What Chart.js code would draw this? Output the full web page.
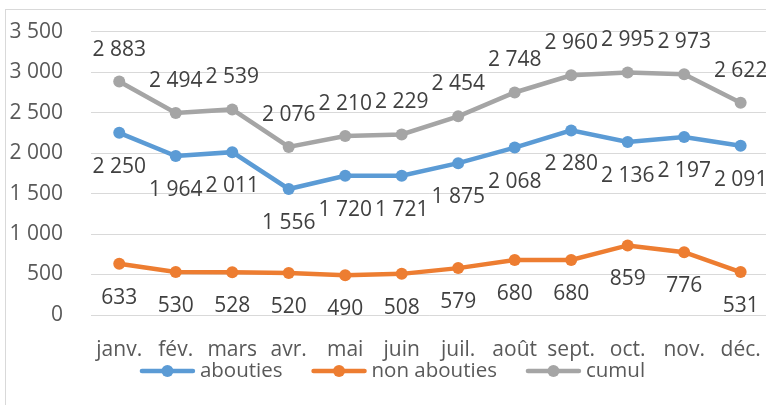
<!DOCTYPE html>
<html lang="fr">
<head>
<meta charset="UTF-8">
<title>Appels</title>
<script src="https://cdn.jsdelivr.net/npm/chart.js"></script>
<style>
  body { margin: 0; padding: 0; background: #fff; overflow: hidden; width: 766px; height: 405px; position: relative; }
  .frame { position: absolute; left: 5px; top: 9px; width: 1000px; height: 1000px; border: 1px solid #d9d9d9; }
  .wrap { position: absolute; left: 0; top: -9px; width: 775px; height: 414px; }
</style>
</head>
<body>
<div class="frame"></div>
<div class="wrap"><canvas id="chart"></canvas></div>
<script>
// data
const months = ['janv.', 'fév.', 'mars', 'avr.', 'mai', 'juin', 'juil.', 'août', 'sept.', 'oct.', 'nov.', 'déc.'];
const abouties = [2250, 1964, 2011, 1556, 1720, 1721, 1875, 2068, 2280, 2136, 2197, 2091];
const nonAbouties = [633, 530, 528, 520, 490, 508, 579, 680, 680, 859, 776, 531];
const cumul = [2883, 2494, 2539, 2076, 2210, 2229, 2454, 2748, 2960, 2995, 2973, 2622];

const FONT = "'Open Sans', sans-serif";
const FSIZE = 21;

function fmt(n) {
  return String(n).replace(/\B(?=(\d{3})+(?!\d))/g, ' ');
}

// value labels + legend (line with marker, like the office one)
const extras = {
  id: 'extras',
  afterDatasetsDraw(chart) {
    const ctx = chart.ctx;
    ctx.save();
    ctx.font = FSIZE + 'px ' + FONT;
    ctx.fillStyle = '#404040';
    ctx.textAlign = 'center';
    ctx.textBaseline = 'middle';
    chart.data.datasets.forEach((ds, i) => {
      chart.getDatasetMeta(i).data.forEach((pt, j) => {
        ctx.fillText(fmt(ds.data[j]), pt.x, pt.y + ds.labelOffset);
      });
    });
    ctx.restore();
  },
  afterDraw(chart) {
    const ctx = chart.ctx;
    const lineW = 55, textGap = 5, itemGap = 29;
    ctx.save();
    ctx.font = '20.5px ' + FONT;
    ctx.textBaseline = 'middle';
    ctx.textAlign = 'left';
    const items = chart.data.datasets.map(ds => ({ ds, w: ctx.measureText(ds.label).width }));
    const total = items.reduce((s, it) => s + lineW + textGap + it.w, 0) + itemGap * (items.length - 1);
    let x = 392.5 - total / 2;
    const y = chart.chartArea.bottom + 56;
    items.forEach(it => {
      const c = it.ds.borderColor;
      ctx.strokeStyle = c;
      ctx.lineWidth = 4.5;
      ctx.lineCap = 'round';
      ctx.beginPath();
      ctx.moveTo(x + 2, y);
      ctx.lineTo(x + lineW - 2, y);
      ctx.stroke();
      ctx.fillStyle = c;
      ctx.beginPath();
      ctx.arc(x + lineW / 2, y, 6, 0, Math.PI * 2);
      ctx.fill();
      ctx.fillStyle = '#595959';
      ctx.fillText(it.ds.label, x + lineW + textGap, y);
      x += lineW + textGap + it.w + itemGap;
    });
    ctx.restore();
  }
};

function series(label, data, color, offset) {
  return {
    label: label,
    data: data,
    borderColor: color,
    backgroundColor: color,
    borderWidth: 4.5,
    pointRadius: 6,
    pointBackgroundColor: color,
    pointBorderWidth: 0,
    tension: 0,
    labelOffset: offset
  };
}

new Chart(document.getElementById('chart'), {
  type: 'line',
  data: {
    labels: months,
    datasets: [
      series('abouties', abouties, '#5B9BD5', 34),
      series('non abouties', nonAbouties, '#ED7D31', 34),
      series('cumul', cumul, '#A5A5A5', -32)
    ]
  },
  plugins: [extras],
  options: {
    responsive: true,
    maintainAspectRatio: false,
    animation: false,
    layout: { padding: { top: 20, left: 0, right: 0, bottom: 28 } },
    plugins: {
      tooltip: { enabled: false },
      legend: { display: false }
    },
    scales: {
      x: {
        offset: true,
        grid: { display: false },
        border: { display: false },
        ticks: { color: '#595959', font: { family: FONT, size: FSIZE }, padding: 14, maxRotation: 0, autoSkip: false },
        afterFit(scale) { scale.height = 62; }
      },
      y: {
        min: 0,
        max: 3500,
        border: { display: false },
        grid: { color: '#d9d9d9', lineWidth: 1, drawTicks: false },
        ticks: {
          stepSize: 500,
          padding: 28,
          color: '#595959',
          font: { family: FONT, size: FSIZE },
          callback: v => fmt(v)
        },
        afterFit(scale) { scale.width = 91; }
      }
    }
  }
});
</script>
</body>
</html>
